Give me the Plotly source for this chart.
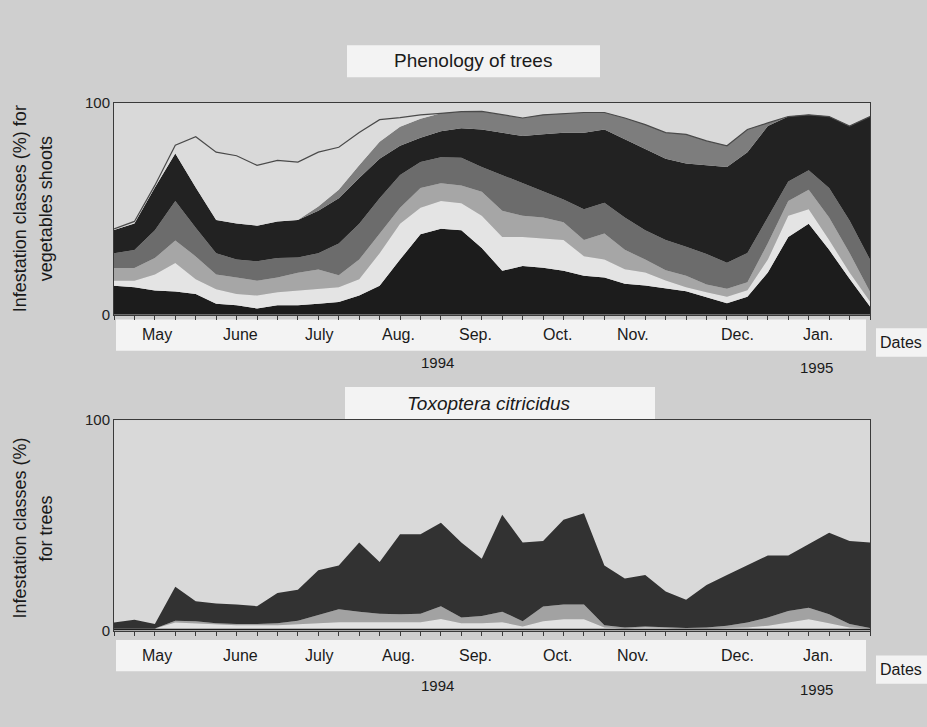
import plotly.graph_objects as go

W, H = 927, 727

# ---- sampling dates (weekly index, May 1994 -> Jan 1995) ----
weeks = list(range(38))

# month tick labels and their positions on the week axis
month_labels = ["May", "June", "July", "Aug.", "Sep.", "Oct.", "Nov.", "Dec.", "Jan."]
month_weeks = [2.1, 6.18, 10.05, 13.9, 17.7, 21.7, 25.4, 30.5, 34.45]

# ---- Phenology of trees: upper edge (cumulative %) of each class, bottom -> top ----
shoots_c1 = [13.7, 13, 11.4, 10.9, 9.8, 5.2, 4.5, 2.9, 4.5, 4.5, 5.2, 6, 9, 13.7, 26, 38, 40.5, 39.8, 31.5,
             20.7, 23.0, 22.2, 20.7, 18.4, 17.6, 14.6, 13.8, 12.5, 11.1, 8.2, 5.4, 8.5, 19.9, 36.7, 42.9, 30.6, 16.9, 3.9]
shoots_c2 = [16, 16, 19, 24.4, 16.7, 12, 9.8, 9, 10.6, 11.4, 12, 12.9, 16.7, 29, 42.9, 50.5, 53.6, 52.6, 46.7,
             36.7, 36.7, 36.0, 35.2, 27.6, 26.0, 21.4, 19.9, 16.1, 13.0, 10.6, 8.5, 11.5, 26.0, 46.7, 49.8, 35.2, 19.9, 6.2]
shoots_c3 = [22, 22, 26.7, 35, 27.5, 19, 17.5, 16, 17.5, 19.8, 21.3, 18.6, 26, 38, 50.5, 59.8, 62, 61, 58,
             49.0, 46.7, 45.9, 43.6, 35.2, 38.3, 30.6, 26.0, 21, 18.4, 14.3, 12.2, 15.3, 33.7, 53.6, 59.0, 45.9, 29.1, 10.8]
shoots_c4 = [29, 30.5, 39.8, 53.6, 41, 29, 26, 25.2, 26.7, 27, 29, 33.6, 42.9, 55, 65.9, 72, 74.3, 74, 69.7,
             65.9, 62.1, 58.2, 54.4, 49.8, 52.8, 45.9, 39.8, 35.2, 32.1, 28.6, 24.5, 29.1, 45.9, 62.8, 68.2, 59.8, 44.4, 26.0]
shoots_c5 = [40, 43, 60, 76, 60, 44.7, 43, 42, 44, 44.7, 49, 55, 64.5, 73.6, 79.7, 83.5, 86.6, 88, 87.4,
             85.9, 84.3, 85.1, 85.9, 85.9, 87.4, 82.8, 78.2, 73.6, 71.3, 70.5, 69.7, 76.6, 89, 93.5, 94.3, 93.5, 89, 93.5]
shoots_c6 = [40, 43, 60, 76, 60, 44.7, 43, 42, 44, 44.7, 51, 59, 70.5, 81.6, 88.7, 92.5, 95, 95.8, 95.9,
             94.3, 92.8, 94.3, 95, 95.4, 95.4, 92.8, 89.7, 85.9, 85.1, 82, 79.7, 87.4, 90.5, 93.5, 94.3, 93.5, 89, 93.5]
shoots_c7 = [40.5, 44, 61, 80, 84, 76.7, 75, 70.5, 72.8, 72, 76.7, 79, 86, 92, 93, 94.3, 95, 95.8, 95.9,
             94.3, 92.8, 94.3, 95, 95.4, 95.4, 92.8, 89.7, 85.9, 85.1, 82, 79.7, 87.4, 90.5, 93.5, 94.3, 93.5, 89, 93.5]

# ---- Toxoptera citricidus: upper edge (cumulative %) of each class ----
trees_c1 = [1] * 38
trees_c2 = [1, 1, 1, 3.9, 3.5, 3, 2.5, 2.5, 2.5, 3, 3.5, 4, 4, 4, 4, 4, 5.5, 3.5, 3.5,
            4, 2, 4.5, 5.4, 5.4, 1.5, 1, 1.5, 1.2, 1, 1, 1.2, 1.5, 2.3, 3.9, 5.4, 3.5, 1.5, 1]
trees_c3 = [1, 1, 1, 4.7, 4.5, 3.5, 3.1, 3.1, 3.5, 4.7, 7.5, 10.1, 9, 8, 7.8, 8, 11.6, 6.2, 7,
            9, 4.5, 11.5, 12.4, 12.4, 2.5, 1.5, 2, 1.5, 1.2, 1.5, 2.3, 3.9, 6.2, 9.3, 10.9, 7.8, 3.1, 1.2]
trees_c4 = [3.9, 5.2, 3.1, 20.9, 14.0, 12.9, 12.4, 11.6, 17.9, 19.4, 28.7, 31.0, 41.9, 32.6, 45.8, 45.8, 51.2, 41.9, 34.1,
            55.1, 41.9, 42.6, 52.7, 55.8, 31.0, 24.8, 26.4, 18.6, 14.7, 21.7, 26.4, 31.0, 35.7, 35.7, 41.1, 46.5, 42.6, 41.9]

shoots_layers = [shoots_c1, shoots_c2, shoots_c3, shoots_c4, shoots_c5, shoots_c6, shoots_c7]
shoots_colors = ["#1c1c1c", "#e4e4e4", "#a6a6a6", "#6c6c6c", "#222222", "#7d7d7d", "#dcdcdc"]
trees_layers = [trees_c1, trees_c2, trees_c3, trees_c4]
trees_colors = ["#1e1e1e", "#e2e2e2", "#a2a2a2", "#323232"]


def px(x):
    return x / W


def py(y):
    return 1 - y / H


fig = go.Figure()

for k, (vals, col) in enumerate(zip(shoots_layers, shoots_colors)):
    last = k == len(shoots_layers) - 1
    fig.add_trace(go.Scatter(
        x=weeks, y=vals, xaxis="x", yaxis="y", mode="lines",
        line=dict(width=1.2 if last else 0, color="#4a4a4a"),
        fill="tozeroy" if k == 0 else "tonexty", fillcolor=col,
        showlegend=False, hoverinfo="skip"))

for k, (vals, col) in enumerate(zip(trees_layers, trees_colors)):
    fig.add_trace(go.Scatter(
        x=weeks, y=vals, xaxis="x2", yaxis="y2", mode="lines",
        line=dict(width=0, color=col),
        fill="tozeroy" if k == 0 else "tonexty", fillcolor=col,
        showlegend=False, hoverinfo="skip"))

NARROW = "Liberation Sans Narrow, Arial Narrow, Liberation Sans, Arial, sans-serif"
SANS = "Liberation Sans, Arial, Helvetica, sans-serif"

xa = dict(range=[0, 37], showgrid=False, zeroline=False, showline=True, mirror=True,
          linecolor="#3a3a3a", linewidth=1, ticks="outside", tickvals=weeks, ticklen=4,
          tickcolor="#3a3a3a", tickwidth=1, showticklabels=False)
ya = dict(range=[0, 100], showgrid=False, zeroline=False, showline=True, mirror=True,
          linecolor="#3a3a3a", linewidth=1, ticks="", tickvals=[0, 100],
          tickfont=dict(family=NARROW, size=15, color="#222"))

fig.update_layout(
    width=W, height=H, margin=dict(l=0, r=0, t=0, b=0),
    paper_bgcolor="#cfcfcf", plot_bgcolor="#d9d9d9",
    xaxis=dict(xa, domain=[px(114), px(870)], anchor="y"),
    yaxis=dict(ya, domain=[py(313), py(96)], anchor="x"),
    xaxis2=dict(xa, domain=[px(114), px(870)], anchor="y2"),
    yaxis2=dict(ya, domain=[py(636.5), py(421)], anchor="x2"),
)

# white label boxes
boxes = [(347, 37, 600, 70), (116, 318, 866, 350), (876, 327, 927, 356),
         (345, 387, 655, 420), (116, 646, 866, 678), (876, 662, 927, 691)]
for x0, y0, x1, y1 in boxes:
    fig.add_shape(type="rect", xref="paper", yref="paper", x0=px(x0), x1=px(x1),
                  y0=py(y1), y1=py(y0), fillcolor="#f3f3f3", line=dict(width=0), layer="below")

ann = []
ann.append(dict(text="Phenology of trees", x=px(473), y=py(53), font=dict(family=NARROW, size=19)))
ann.append(dict(text="<i>Toxoptera citricidus</i>", x=px(489), y=py(404), font=dict(family=SANS, size=19)))
for xr, ymon, ydates, yy94, yy95 in [("x", 333, 341, 362, 367), ("x2", 662, 676, 693, 697)]:
    for lab, w in zip(month_labels, month_weeks):
        ann.append(dict(text=lab, x=w, xref=xr, y=py(ymon), font=dict(family=NARROW, size=16)))
    ann.append(dict(text="Dates", x=px(901), y=py(ydates), font=dict(family=NARROW, size=16)))
    ann.append(dict(text="1994", x=px(437), y=py(yy94), font=dict(family=NARROW, size=15)))
    ann.append(dict(text="1995", x=px(816), y=py(yy95), font=dict(family=NARROW, size=15)))
ann.append(dict(text="Infestation classes (%) for", x=px(20), y=py(205), textangle=-90,
                font=dict(family=SANS, size=18)))
ann.append(dict(text="vegetables shoots", x=px(46), y=py(205), textangle=-90,
                font=dict(family=SANS, size=18)))
ann.append(dict(text="Infestation classes (%)", x=px(20), y=py(532), textangle=-90,
                font=dict(family=SANS, size=18)))
ann.append(dict(text="for trees", x=px(46), y=py(532), textangle=-90,
                font=dict(family=SANS, size=18)))

for a in ann:
    a.setdefault("xref", "paper")
    a["yref"] = "paper"
    a["showarrow"] = False
    a["xanchor"] = "center"
    a["yanchor"] = "middle"
    a["font"]["color"] = "#1a1a1a"
fig.update_layout(annotations=ann)

fig.write_html("out.html")
